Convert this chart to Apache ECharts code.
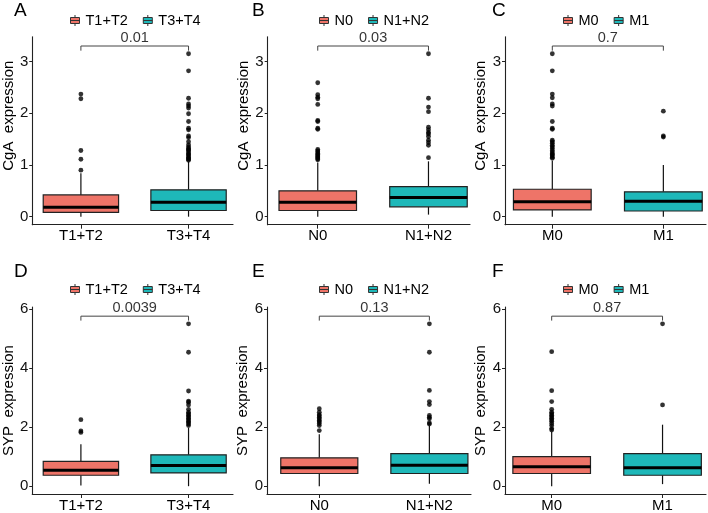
<!DOCTYPE html>
<html><head><meta charset="utf-8">
<script src="https://cdn.jsdelivr.net/npm/echarts@6/dist/echarts.min.js"></script>
<style>html,body{margin:0;padding:0;background:#fff}#c{width:708px;height:513px}</style>
</head><body><div id="c"></div>
<script>
// ---------- data ----------
const catsT = ['T1+T2', 'T3+T4'];
const catsN = ['N0', 'N1+N2'];
const catsM = ['M0', 'M1'];
const letters = ['A', 'B', 'C', 'D', 'E', 'F'];
const yNames = ['CgA  expression', 'SYP  expression'];
const pValues = ['0.01', '0.03', '0.7', '0.0039', '0.13', '0.87'];
const yTicksTop = [0, 1, 2, 3];
const yTicksBottom = [0, 2, 4, 6];

// [lower whisker, Q1, median, Q3, upper whisker]
const cgaT12 = [0.0, 0.085, 0.18, 0.42, 0.84];
const cgaT34 = [0.0, 0.12, 0.28, 0.52, 1.06];
const cgaN0 = [0.0, 0.12, 0.28, 0.50, 1.05];
const cgaN12 = [0.04, 0.19, 0.37, 0.58, 1.07];
const cgaM0 = [0.0, 0.13, 0.29, 0.53, 1.08];
const cgaM1 = [0.0, 0.11, 0.30, 0.48, 1.0];
const sypT12 = [0.02, 0.37, 0.54, 0.84, 1.42];
const sypT34 = [0.0, 0.45, 0.70, 1.06, 1.97];
const sypN0 = [0.0, 0.43, 0.62, 0.96, 1.76];
const sypN12 = [0.08, 0.43, 0.71, 1.10, 2.05];
const sypM0 = [0.0, 0.43, 0.66, 1.0, 1.85];
const sypM1 = [0.07, 0.37, 0.62, 1.10, 2.08];

// outliers
const cgaT12Out = [0.90, 1.11, 1.28, 2.28, 2.37];
const cgaT34Out = [3.15, 2.82, 2.29, 2.18, 2.14, 2.10, 1.99, 1.84, 1.71, 1.68, 1.56, 1.53, 1.45, 1.39, 1.35, 1.32, 1.30, 1.28, 1.25, 1.22, 1.20, 1.18, 1.15, 1.13, 1.11, 1.09];
const cgaN0Out = [2.59, 2.36, 2.31, 2.28, 2.17, 1.86, 1.84, 1.71, 1.69, 1.30, 1.27, 1.25, 1.22, 1.20, 1.18, 1.16, 1.14, 1.12, 1.10];
const cgaN12Out = [3.15, 2.29, 2.12, 2.03, 1.73, 1.68, 1.63, 1.60, 1.55, 1.48, 1.43, 1.38, 1.14];
const cgaM0Out = [3.15, 2.82, 2.37, 2.30, 2.18, 2.14, 1.84, 1.71, 1.69, 1.48, 1.45, 1.42, 1.38, 1.35, 1.32, 1.28, 1.25, 1.22, 1.20, 1.18, 1.15, 1.13];
const cgaM1Out = [2.04, 1.56, 1.54];
const sypT12Out = [2.25, 1.87, 1.82];
const sypT34Out = [5.49, 4.53, 3.22, 2.88, 2.84, 2.75, 2.60, 2.50, 2.45, 2.40, 2.35, 2.30, 2.25, 2.20, 2.15, 2.10, 2.05];
const sypN0Out = [2.62, 2.50, 2.42, 2.38, 2.32, 2.28, 2.22, 2.18, 2.12, 2.05, 1.88];
const sypN12Out = [5.49, 4.53, 3.24, 2.86, 2.76, 2.39, 2.33, 2.28, 2.14, 2.10];
const sypM0Out = [4.55, 3.23, 2.86, 2.60, 2.50, 2.45, 2.40, 2.35, 2.30, 2.25, 2.20, 2.12, 2.05, 1.95, 1.90];
const sypM1Out = [5.49, 2.75];

const panels = [
  { cats: catsT, stats: [cgaT12, cgaT34], out: [cgaT12Out, cgaT34Out], row: 0 },
  { cats: catsN, stats: [cgaN0, cgaN12], out: [cgaN0Out, cgaN12Out], row: 0 },
  { cats: catsM, stats: [cgaM0, cgaM1], out: [cgaM0Out, cgaM1Out], row: 0 },
  { cats: catsT, stats: [sypT12, sypT34], out: [sypT12Out, sypT34Out], row: 1 },
  { cats: catsN, stats: [sypN0, sypN12], out: [sypN0Out, sypN12Out], row: 1 },
  { cats: catsM, stats: [sypM0, sypM1], out: [sypM0Out, sypM1Out], row: 1 }
];

// ---------- layout / style ----------
const FONT = '"Liberation Sans", Arial, Helvetica, sans-serif';
const RED = '#EE7468';
const TEAL = '#1EB8B9';
const BOX_W = 0.7;
const rows = [
  { top: 36.7, height: 188, ymin: -0.155, ymax: 3.48, ticks: yTicksTop, bracket: [3.21, 3.30], namePad: 30, legendTop: 13, titleTop: 1 },
  { top: 307, height: 187.5, ymin: -0.264, ymax: 6.06, ticks: yTicksBottom, bracket: [5.60, 5.75], namePad: 0, legendTop: 282, titleTop: 262 }
];
const cols = [
  { left: 26.7, right: 233, xmin: 0.548, xmax: 2.413, nameGap: 9, legendLeft: 70, titleLeft: 14 },
  { left: 267.7, right: 470, xmin: 0.548, xmax: 2.375, nameGap: 12, legendLeft: 319, titleLeft: 252 },
  { left: 505, right: 706, xmin: 0.574, xmax: 2.384, nameGap: 15, legendLeft: 563, titleLeft: 492 }
];
const colsBottom = [
  { left: 26.7, right: 233, xmin: 0.548, xmax: 2.413, nameGap: 10, legendLeft: 70, titleLeft: 14 },
  { left: 267, right: 471, xmin: 0.525, xmax: 2.378, nameGap: 14, legendLeft: 319, titleLeft: 252 },
  { left: 505, right: 706, xmin: 0.579, xmax: 2.392, nameGap: 15, legendLeft: 563, titleLeft: 492 }
];

function renderBox(params, api) {
  const x = api.value(0);
  const lo = api.coord([x, api.value(1)]);
  const q1 = api.coord([x, api.value(2)]);
  const md = api.coord([x, api.value(3)]);
  const q3 = api.coord([x, api.value(4)]);
  const hi = api.coord([x, api.value(5)]);
  const w = api.size([BOX_W, 0])[0];
  const color = api.visual('color');
  return {
    type: 'group', children: [
      { type: 'line', shape: { x1: lo[0], y1: lo[1], x2: q1[0], y2: q1[1] }, style: { stroke: '#111', lineWidth: 1.2 } },
      { type: 'line', shape: { x1: q3[0], y1: q3[1], x2: hi[0], y2: hi[1] }, style: { stroke: '#111', lineWidth: 1.2 } },
      { type: 'rect', shape: { x: q3[0] - w / 2, y: q3[1], width: w, height: q1[1] - q3[1] }, style: { fill: color, stroke: '#222', lineWidth: 1.2 } },
      { type: 'line', shape: { x1: md[0] - w / 2, y1: md[1], x2: md[0] + w / 2, y2: md[1] }, style: { stroke: '#000', lineWidth: 3 } }
    ]
  };
}

const ICON = 'path://M0,2.5H9V8.5H0Z M4.5,0V2.5 M4.5,8.5V11 M0,5.5H9';

const option = { animation: false, backgroundColor: '#fff', grid: [], xAxis: [], yAxis: [], series: [], legend: [], title: [] };

panels.forEach((p, i) => {
  const R = rows[p.row];
  const C = (p.row === 0 ? cols : colsBottom)[i % 3];
  option.grid.push({ left: C.left, top: R.top, width: C.right - C.left, height: R.height });
  option.title.push({ text: letters[i], left: C.titleLeft, top: R.titleTop, padding: 0,
    textStyle: { fontSize: 19, fontWeight: 'normal', color: '#000', fontFamily: FONT } });
  option.xAxis.push({
    gridIndex: i, type: 'value', min: C.xmin, max: C.xmax,
    axisLine: { show: true, onZero: false, lineStyle: { color: '#222', width: 1.1 } },
    axisTick: { show: true, length: 4, customValues: [1, 2], lineStyle: { color: '#222' } },
    axisLabel: { customValues: [1, 2], formatter: v => p.cats[Math.round(v) - 1], fontSize: 15, color: '#000', margin: 4, fontFamily: FONT },
    splitLine: { show: false }
  });
  option.yAxis.push({
    gridIndex: i, type: 'value', min: R.ymin, max: R.ymax,
    axisLine: { show: true, onZero: false, lineStyle: { color: '#222', width: 1.1 } },
    axisTick: { show: true, length: 3, customValues: R.ticks, lineStyle: { color: '#222' } },
    axisLabel: { customValues: R.ticks, fontSize: 15, color: '#111', margin: 4, fontFamily: FONT },
    splitLine: { show: false },
    name: yNames[p.row], nameLocation: 'middle', nameGap: C.nameGap,
    nameTextStyle: { fontSize: 15, color: '#000', fontFamily: FONT, padding: [0, 0, 0, R.namePad] }
  });
  option.legend.push({
    data: p.cats.map(n => ({ name: n, icon: ICON })),
    left: C.legendLeft, top: R.legendTop, padding: 0, itemGap: 15, itemWidth: 9, itemHeight: 11,
    selectedMode: false,
    itemStyle: { borderColor: '#333', borderWidth: 1 },
    textStyle: { fontSize: 14.5, color: '#000', fontFamily: FONT, padding: [0, 0, 0, 1] }
  });
  [RED, TEAL].forEach((col, k) => {
    option.series.push({
      type: 'custom', name: p.cats[k], xAxisIndex: i, yAxisIndex: i,
      itemStyle: { color: col },
      renderItem: renderBox,
      encode: { x: 0, y: [1, 2, 3, 4, 5] },
      data: [[k + 1].concat(p.stats[k])]
    });
  });
  const outData = [];
  p.out.forEach((arr, k) => arr.forEach(v => outData.push([k + 1, v])));
  option.series.push({
    type: 'scatter', xAxisIndex: i, yAxisIndex: i, symbolSize: 4.8, z: 5,
    itemStyle: { color: '#000' }, data: outData, silent: true
  });
  option.series.push({
    type: 'line', xAxisIndex: i, yAxisIndex: i, symbol: 'none', silent: true,
    lineStyle: { color: '#444', width: 1 },
    data: [[1, R.bracket[0]], [1, R.bracket[1]], [2, R.bracket[1]], [2, R.bracket[0]]]
  });
  option.series.push({
    type: 'scatter', xAxisIndex: i, yAxisIndex: i, symbolSize: 0, silent: true, clip: false,
    data: [[1.5, R.bracket[1]]],
    label: { show: true, position: 'top', distance: 1, formatter: () => pValues[i], fontSize: 14.5, color: '#000', fontFamily: FONT }
  });
});

const chart = echarts.init(document.getElementById('c'), null, { renderer: 'canvas' });
chart.setOption(option);
</script>
</body></html>
